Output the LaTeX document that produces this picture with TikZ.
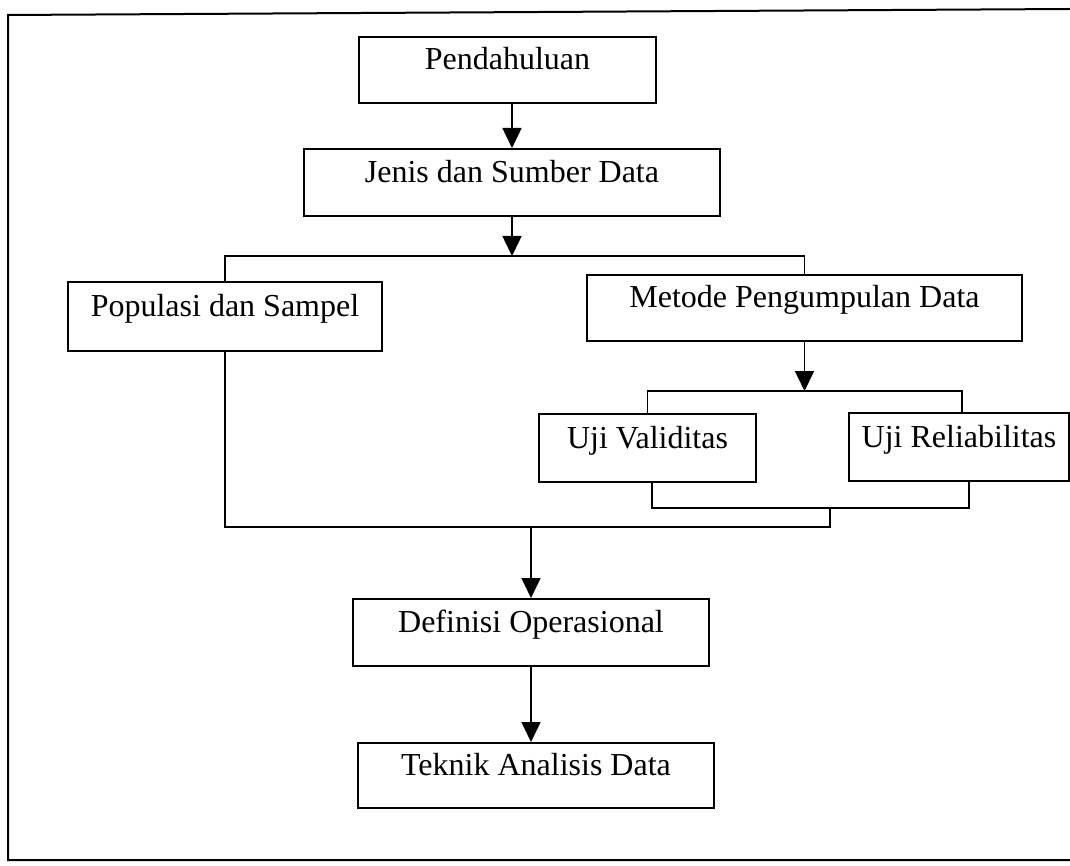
\documentclass[tikz,border=0pt]{standalone}
\usepackage{fontspec}
\setmainfont{Liberation Serif}
\usetikzlibrary{arrows.meta}
\begin{document}
\begin{tikzpicture}[x=1pt,y=-1pt,
  box/.style={draw, line width=2pt, inner xsep=0pt, inner ysep=0pt, font=\fontsize{32}{38}\selectfont},
  arr/.style={line width=1.6pt, -{Triangle[length=20pt,width=19pt]}},
  ln/.style={line width=1.6pt},
  frame/.style={line width=2pt}]
\useasboundingbox (0,0) rectangle (1070,866);
\draw[frame] (1070,9) -- (8,15) -- (8,860) -- (1070,860);

\node[box, minimum width=297pt, text height=33pt, text depth=33pt] (pend) at (507.5,70) {Pendahuluan};
\node[box, minimum width=416pt, text height=33.5pt, text depth=33.5pt] (jenis) at (512,182.5) {Jenis dan Sumber Data};
\node[box, minimum width=314pt, text height=34.5pt, text depth=34.5pt] (pop) at (225,316.5) {Populasi dan Sampel};
\node[box, minimum width=435pt, text height=33pt, text depth=33pt] (met) at (804.5,308) {Metode Pengumpulan Data};
\node[box, minimum width=217pt, text height=34pt, text depth=34pt] (val) at (647.5,448) {Uji Validitas};
\node[box, minimum width=220pt, text height=34pt, text depth=34pt] (rel) at (959,447) {Uji Reliabilitas};
\node[box, minimum width=356pt, text height=33.5pt, text depth=33.5pt] (def) at (531,632.5) {Definisi Operasional};
\node[box, minimum width=356pt, text height=32.5pt, text depth=32.5pt] (tek) at (536,775.5) {Teknik Analisis Data};

\coordinate (s1) at (512,256);
\coordinate (sR) at (804.5,256);
\coordinate (s2) at (804.5,391);
\coordinate (m1) at (830,508);
\coordinate (m2) at (830,527);

\draw[arr] (pend.south -| jenis.north) -- (jenis.north);
\draw[arr] (jenis.south) -- (s1);
\draw[ln] (pop.north) |- (sR) -- (met.north);
\draw[arr] (met.south) -- (s2);
\draw[ln] (val.north) |- (s2) -| ([xshift=3pt]rel.north);
\draw[ln] ([xshift=4.5pt]val.south) |- (m1) -| ([xshift=10pt]rel.south);
\draw[ln] (m1) -- (m2) -- (pop.south |- m2) -- (pop.south);
\draw[arr] (def.north |- m2) -- (def.north);
\draw[arr] (def.south) -- (def.south |- tek.north);
\end{tikzpicture}
\end{document}
